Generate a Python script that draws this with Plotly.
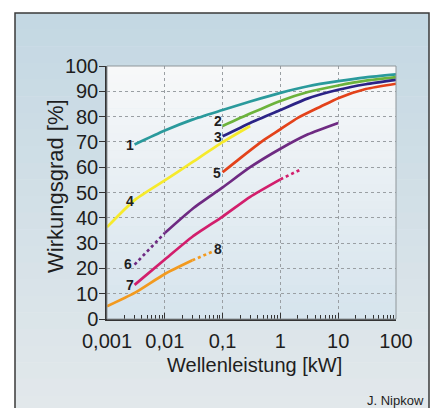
import math
import plotly.graph_objects as go

# ---------------- data ----------------
x_ticks = [0.001, 0.01, 0.1, 1, 10, 100]
x_ticktext = ["0,001", "0,01", "0,1", "1", "10", "100"]
y_ticks = [0, 10, 20, 30, 40, 50, 60, 70, 80, 90, 100]

c1_x = [0.003, 0.01, 0.03, 0.1, 0.3, 1, 3, 10, 30, 100]
c1_y = [69.0, 74.5, 78.8, 82.6, 86.0, 89.4, 92.0, 94.0, 95.5, 96.7]

c2_x = [0.1, 0.3, 1, 3, 10, 30, 100]
c2_y = [76.3, 81.2, 86.2, 89.7, 92.3, 94.2, 95.6]

c3_x = [0.1, 0.3, 1, 3, 10, 30, 100]
c3_y = [72.2, 77.5, 82.6, 87.2, 90.6, 92.8, 94.5]

c4_x = [0.001, 0.003, 0.01, 0.03, 0.1, 0.3]
c4_y = [36.3, 47.0, 54.8, 62.0, 69.9, 76.3]

c5_x = [0.1, 0.2, 0.5, 1, 2, 5, 10, 30, 100]
c5_y = [58.0, 63.5, 70.5, 75.0, 79.5, 84.0, 87.3, 90.9, 93.0]

c6_dot_x = [0.003, 0.01]
c6_dot_y = [21.5, 34.0]
c6_x = [0.01, 0.03, 0.1, 0.3, 1, 3, 10]
c6_y = [34.0, 43.5, 52.0, 60.0, 67.3, 73.0, 77.5]

c7_x = [0.003, 0.01, 0.03, 0.1, 0.3, 1]
c7_y = [13.5, 23.5, 32.5, 40.5, 48.3, 55.2]
c7_dot_x = [1, 2.2]
c7_dot_y = [55.2, 59.0]

c8_x = [0.001, 0.003, 0.01, 0.03]
c8_y = [5.0, 10.3, 17.8, 23.2]
c8_dot_x = [0.03, 0.065]
c8_dot_y = [23.2, 26.5]

label_text = ["1", "2", "3", "4", "5", "6", "7", "8"]
label_x = [0.0025, 0.083, 0.083, 0.0025, 0.080, 0.0023, 0.0025, 0.083]
label_y = [68.6, 78.2, 71.9, 46.5, 57.6, 21.7, 13.4, 27.6]

# ---------------- figure ----------------
W, H = 438, 408
L, R, T, B = 107, 42, 66, 89
PW, PH = W - L - R, H - T - B
FONT = "Liberation Sans, Arial, Helvetica, sans-serif"


def px_x(px):
    return (px - L) / PW


def px_y(py):
    return (H - B - py) / PH


fig = go.Figure()

series = [
    (c1_x, c1_y, "#2a9a9c", "solid"),
    (c2_x, c2_y, "#6cb33c", "solid"),
    (c3_x, c3_y, "#2b2386", "solid"),
    (c4_x, c4_y, "#f6ea2c", "solid"),
    (c5_x, c5_y, "#e3421a", "solid"),
    (c6_dot_x, c6_dot_y, "#6e2a82", "dot"),
    (c6_x, c6_y, "#6e2a82", "solid"),
    (c7_x, c7_y, "#d21e6c", "solid"),
    (c7_dot_x, c7_dot_y, "#d21e6c", "dot"),
    (c8_x, c8_y, "#f29a1f", "solid"),
    (c8_dot_x, c8_dot_y, "#f29a1f", "dot"),
]
for xs, ys, col, dash in series:
    fig.add_trace(go.Scatter(
        x=xs, y=ys, mode="lines",
        line=dict(color=col, width=2.7, dash=dash, shape="spline", smoothing=0.6),
        hoverinfo="skip", showlegend=False,
    ))

shapes = []
# outer frame gradient (light steel blue, lighter towards bottom)
n = 24
top_c = (196, 216, 227)
bot_c = (226, 232, 235)
f_top, f_bot = 13, 412
for i in range(n):
    t = i / (n - 1)
    c = tuple(int(round(top_c[k] + (bot_c[k] - top_c[k]) * t)) for k in range(3))
    y0 = f_top + (f_bot - f_top) * i / n
    y1 = f_top + (f_bot - f_top) * (i + 1) / n + 0.6
    shapes.append(dict(type="rect", xref="paper", yref="paper", layer="below",
                       x0=px_x(15), x1=px_x(429), y0=px_y(y1), y1=px_y(y0),
                       fillcolor="rgb(%d,%d,%d)" % c, line=dict(width=0)))
shapes.append(dict(type="rect", xref="paper", yref="paper", layer="below",
                   x0=px_x(15), x1=px_x(429), y0=px_y(f_bot), y1=px_y(f_top),
                   fillcolor="rgba(0,0,0,0)", line=dict(color="#3a3a3a", width=1.5)))

# plot-area gradient (white at top to light blue at bottom)
m = 30
ptop = (247, 248, 249)
pbot = (214, 228, 237)
for i in range(m):
    t = i / (m - 1)
    c = tuple(int(round(ptop[k] + (pbot[k] - ptop[k]) * t)) for k in range(3))
    shapes.append(dict(type="rect", xref="x domain", yref="y domain", layer="below",
                       x0=0, x1=1, y0=1 - (i + 1) / m - 0.002, y1=1 - i / m,
                       fillcolor="rgb(%d,%d,%d)" % c, line=dict(width=0)))
# plot border (top/right)
shapes.append(dict(type="rect", xref="x domain", yref="y domain", layer="above",
                   x0=0, x1=1, y0=0, y1=1, fillcolor="rgba(0,0,0,0)",
                   line=dict(color="#8f969a", width=1)))

annotations = []
for t_, lx, ly in zip(label_text, label_x, label_y):
    annotations.append(dict(x=math.log10(lx), y=ly, xref="x", yref="y", text="<b>%s</b>" % t_,
                            showarrow=False, font=dict(family=FONT, size=14, color="#1e1e1e"),
                            xanchor="center", yanchor="middle"))

annotations.append(dict(x=px_x(55), y=px_y(186), xref="paper", yref="paper",
                        text="Wirkungsgrad [%]", textangle=-90, showarrow=False,
                        font=dict(family=FONT, size=22, color="#1e1e1e"),
                        xanchor="center", yanchor="middle"))
annotations.append(dict(x=px_x(254), y=px_y(365), xref="paper", yref="paper",
                        text="Wellenleistung [kW]", showarrow=False,
                        font=dict(family=FONT, size=20, color="#1e1e1e"),
                        xanchor="center", yanchor="middle"))
annotations.append(dict(x=px_x(426), y=px_y(400), xref="paper", yref="paper",
                        text="J. Nipkow", showarrow=False,
                        font=dict(family=FONT, size=13, color="#1e1e1e"),
                        xanchor="right", yanchor="middle"))

minor_vals = [mlt * 10 ** e for e in range(-3, 2) for mlt in range(2, 10)]

fig.update_layout(
    width=W, height=H,
    margin=dict(l=L, r=R, t=T, b=B, pad=0),
    paper_bgcolor="white",
    plot_bgcolor="#eef2f5",
    shapes=shapes,
    annotations=annotations,
    font=dict(family=FONT, color="#1e1e1e"),
    xaxis=dict(
        type="log", range=[-3, 2], tickvals=x_ticks, ticktext=x_ticktext,
        tickfont=dict(size=20, color="#1e1e1e"),
        ticks="inside", ticklen=6, tickcolor="#333", tickwidth=1,
        ticklabelstandoff=3,
        showline=True, linecolor="#333", linewidth=1.5,
        showgrid=True, gridcolor="#9a9fa3", griddash="dot", gridwidth=1,
        minor=dict(tickvals=minor_vals, ticks="inside", ticklen=4, tickcolor="#333",
                   showgrid=False),
        zeroline=False,
    ),
    yaxis=dict(
        range=[0, 100], tickvals=y_ticks,
        tickfont=dict(size=20, color="#1e1e1e"),
        ticks="outside", ticklen=6, tickcolor="#333", tickwidth=1,
        ticklabelstandoff=-3,
        showline=True, linecolor="#333", linewidth=1.5,
        showgrid=True, gridcolor="#9a9fa3", griddash="dot", gridwidth=1,
        zeroline=False,
    ),
)

fig.write_html("out.html", config={"displayModeBar": False},
               post_script="document.body.style.margin='0px';")
